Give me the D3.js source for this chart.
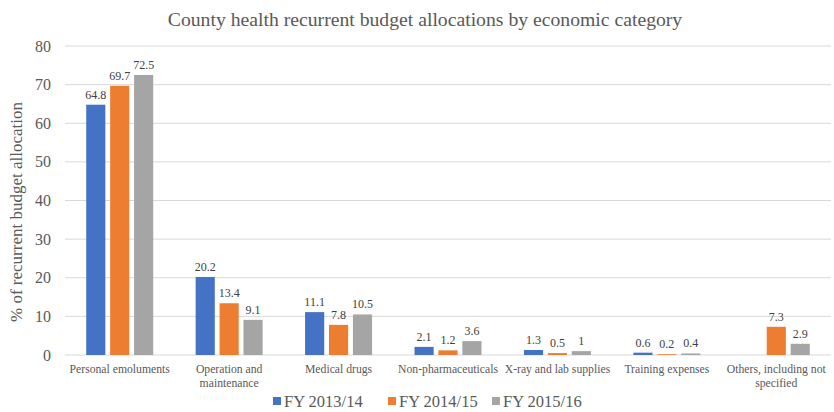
<!DOCTYPE html>
<html>
<head>
<meta charset="utf-8">
<script src="https://cdn.jsdelivr.net/npm/d3@7"></script>
<style>
  body { margin: 0; background: #fff; }
  svg text { font-family: "Liberation Serif", "Times New Roman", serif; }
</style>
</head>
<body>
<div id="chart"></div>
<script>
// chart data
const categories = ["Personal emoluments", "Operation and\nmaintenance", "Medical drugs",
    "Non-pharmaceuticals", "X-ray and lab supplies", "Training expenses",
    "Others, including not\nspecified"];
const seriesNames = ["FY 2013/14", "FY 2014/15", "FY 2015/16"];
const fy1314 = [64.8, 20.2, 11.1, 2.1, 1.3, 0.6, null];
const fy1415 = [69.7, 13.4, 7.8, 1.2, 0.5, 0.2, 7.3];
const fy1516 = [72.5, 9.1, 10.5, 3.6, 1, 0.4, 2.9];
const yTicks = [0, 10, 20, 30, 40, 50, 60, 70, 80];
const colors = ["#4472C4", "#ED7D31", "#A5A5A5"];

const W = 834, H = 412;
const margin = { top: 46, right: 3, bottom: 57, left: 65 };
const width = W - margin.left - margin.right,
    height = H - margin.top - margin.bottom;

const svg = d3.select("#chart").append("svg")
    .attr("width", W).attr("height", H);

const g = svg.append("g")
    .attr("transform", `translate(${margin.left}, ${margin.top})`);

const x0 = d3.scaleBand().domain(categories).range([0, width]);
const x1 = d3.scaleBand().domain(seriesNames).range([0, 67]).paddingInner(0.2);
const y = d3.scaleLinear().domain([0, 80]).range([height, 0]);

// gridlines
g.selectAll(".grid").data(yTicks).join("line")
    .attr("x1", 0).attr("x2", width)
    .attr("y1", d => y(d)).attr("y2", d => y(d))
    .attr("stroke", "#d9d9d9").attr("stroke-width", 1);

// y tick labels
g.selectAll(".ytick").data(yTicks).join("text")
    .attr("x", -14).attr("y", d => y(d)).attr("dy", "0.35em")
    .attr("text-anchor", "end").attr("font-size", 16).attr("fill", "#595959")
    .text(d => d);

const rows = categories.map((c, i) => ({
    cat: c, vals: [fy1314[i], fy1415[i], fy1516[i]]
}));

const groups = g.selectAll(".grp").data(rows).join("g")
    .attr("transform", d => `translate(${x0(d.cat) + (x0.bandwidth() - 67) / 2}, 0)`);

groups.selectAll("rect").data(d => d.vals.map((v, j) => ({ v, s: seriesNames[j], j })))
    .join("rect")
    .filter(d => d.v !== null)
    .attr("x", d => x1(d.s)).attr("width", x1.bandwidth())
    .attr("y", d => y(d.v)).attr("height", d => y(0) - y(d.v))
    .attr("fill", d => colors[d.j]);

groups.selectAll(".lbl").data(d => d.vals.map((v, j) => ({ v, s: seriesNames[j] })).filter(d => d.v !== null))
    .join("text")
    .attr("x", d => x1(d.s) + x1.bandwidth() / 2)
    .attr("y", d => y(d.v) - 6)
    .attr("text-anchor", "middle").attr("font-size", 12).attr("fill", "#404040")
    .text(d => d.v);

// category labels
g.selectAll(".xlab").data(categories).join("text")
    .attr("text-anchor", "middle").attr("font-size", 11.7).attr("fill", "#595959")
    .attr("transform", d => `translate(${x0(d) + x0.bandwidth() / 2}, ${height + 18})`)
    .each(function (d) {
        const lines = d.split("\n");
        d3.select(this).selectAll("tspan").data(lines).join("tspan")
            .attr("x", 0).attr("dy", (l, i) => i === 0 ? 0 : 14)
            .text(l => l);
    });

// title
svg.append("text")
    .attr("x", 425).attr("y", 26)
    .attr("text-anchor", "middle").attr("font-size", 19.7).attr("fill", "#595959")
    .text("County health recurrent budget allocations by economic category");

// y axis title
svg.append("text")
    .attr("transform", `translate(22, 212) rotate(-90)`)
    .attr("text-anchor", "middle").attr("font-size", 17).attr("fill", "#595959")
    .text("% of recurrent budget allocation");

// legend
const legendX = [273, 388, 492];
const legend = svg.selectAll(".leg").data(seriesNames).join("g")
    .attr("transform", (d, i) => `translate(${legendX[i]}, 401)`);
legend.append("rect").attr("x", 0).attr("y", -4).attr("width", 8).attr("height", 8)
    .attr("fill", (d, i) => colors[i]);
legend.append("text").attr("x", 11).attr("y", 0).attr("dy", "0.35em")
    .attr("font-size", 16.5).attr("fill", "#595959").text(d => d);
</script>
</body>
</html>
